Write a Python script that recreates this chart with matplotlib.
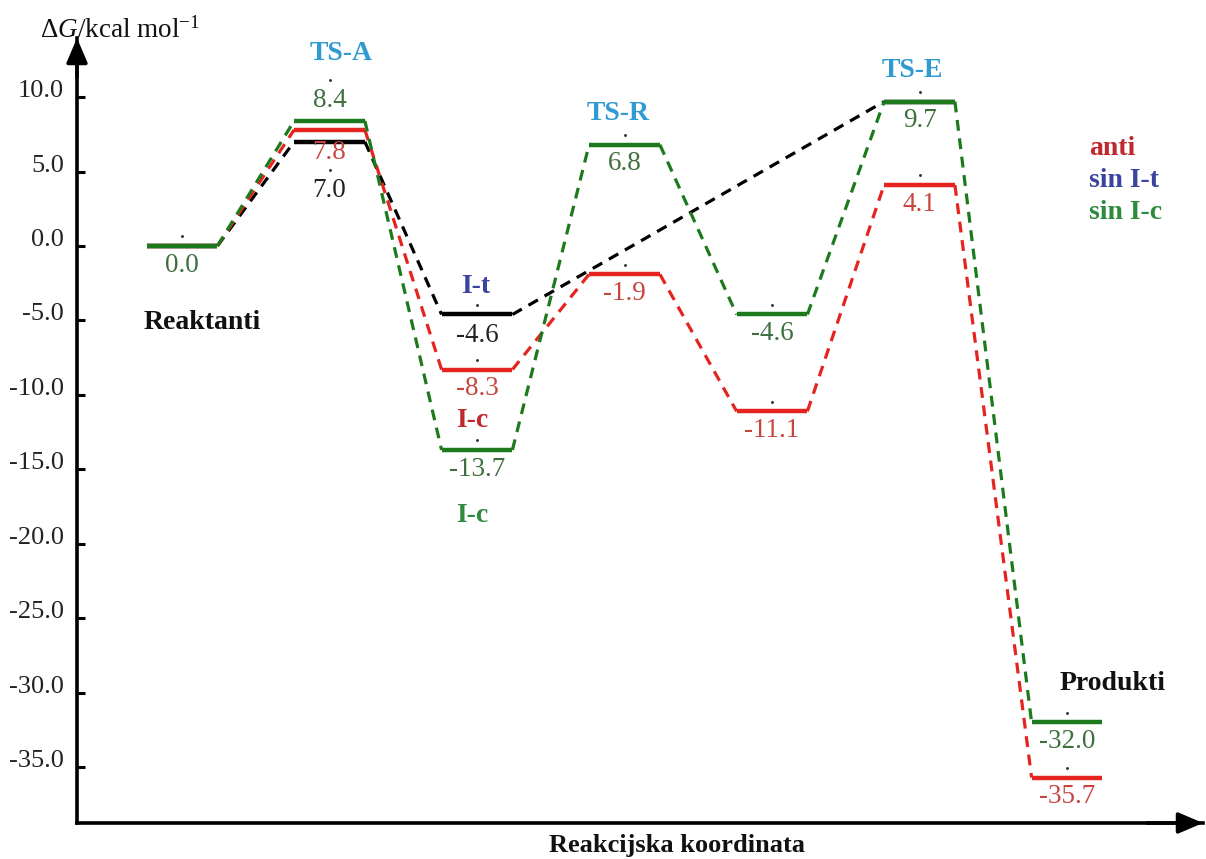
import matplotlib
matplotlib.use("Agg")
import matplotlib.pyplot as plt

plt.rcParams['font.family'] = ['Liberation Serif', 'DejaVu Serif']
plt.rcParams['mathtext.fontset'] = 'custom'
plt.rcParams['mathtext.rm'] = 'Liberation Serif'
plt.rcParams['mathtext.it'] = 'Liberation Serif:italic'

# ---------------- data ----------------
stage_pos = [0, 1, 2, 3, 4, 5, 6]
anti_energy = [0.0, 7.8, -8.3, -1.9, -11.1, 4.1, -35.7]
sin_ic_energy = [0.0, 8.4, -13.7, 6.8, -4.6, 9.7, -32.0]
sin_it_pos = [0, 1, 2, 5]
sin_it_energy = [0.0, 7.0, -4.6, 9.7]

y_ticks = [-35.0, -30.0, -25.0, -20.0, -15.0, -10.0, -5.0, 0.0, 5.0, 10.0]
y_tick_labels = ['-35.0', '-30.0', '-25.0', '-20.0', '-15.0', '-10.0', '-5.0', '0.0', '5.0', '10.0']

series_names = ['anti', 'sin I-t', 'sin I-c']

# ---------------- style ----------------
C_GREEN = '#1c7a1c'
C_RED = '#e5231f'
C_BLACK = '#000000'
T_GREEN = '#3f6f3f'
T_RED = '#c8453f'
T_BLACK = '#222222'
C_TS = '#2f9bd0'
C_BLUE = '#3b43a0'
HW = 0.24          # half width of a level
LBL_OFF = 1.28     # value label offset below level
DOT_OFF = 0.65     # dot offset above level

fig = plt.figure(figsize=(12.06, 8.59), dpi=100)
L, R, T, B = 77, 1203, 38, 823
W, H = 1206, 859
ax = fig.add_axes([L / W, 1 - B / H, (R - L) / W, (B - T) / H])
ax.set_xlim((L - 182) / 147.5, (R - 182) / 147.5)
ax.set_ylim((246 - B) / 14.89, (246 - T) / 14.89)

for s in ['top', 'right']:
    ax.spines[s].set_visible(False)
for s in ['left', 'bottom']:
    ax.spines[s].set_linewidth(2.6)
ax.set_xticks([])
ax.set_yticks(y_ticks, y_tick_labels)
ax.tick_params(axis='y', direction='in', length=6, width=2.2, pad=9.5,
               labelsize=19, labelcolor='#222222')
for lab in ax.get_yticklabels():
    lab.set_verticalalignment('baseline')

# axis arrows
ax.annotate('', xy=(0, 1), xytext=(0, 0.95), xycoords='axes fraction',
            arrowprops=dict(arrowstyle='-|>,head_length=0.75,head_width=0.32',
                            mutation_scale=20, color='black', lw=2.6,
                            shrinkA=0, shrinkB=0))
ax.annotate('', xy=(1, 0), xytext=(0.95, 0), xycoords='axes fraction',
            arrowprops=dict(arrowstyle='-|>,head_length=0.75,head_width=0.32',
                            mutation_scale=20, color='black', lw=2.6,
                            shrinkA=0, shrinkB=0))


def draw_path(pos, en, color, z):
    for i in range(len(pos)):
        ax.plot([pos[i] - HW, pos[i] + HW], [en[i], en[i]], color=color,
                lw=3.2, solid_capstyle='butt', zorder=z + 1)
    for i in range(len(pos) - 1):
        ax.plot([pos[i] + HW, pos[i + 1] - HW], [en[i], en[i + 1]],
                color=color, lw=2.3, dashes=(3.4, 2.4), zorder=z)


draw_path(sin_it_pos, sin_it_energy, C_BLACK, 2)
draw_path(stage_pos, anti_energy, C_RED, 4)
draw_path(stage_pos, sin_ic_energy, C_GREEN, 6)

NUM_FS = 19.5


def val_label(x, e, color, dy=-LBL_OFF, dot_dy=DOT_OFF):
    ax.text(x, e + dy, f'{e:.1f}', color=color, fontsize=NUM_FS,
            ha='center', va='center', zorder=10)
    if dot_dy is not None:
        ax.plot([x], [e + dot_dy], marker='.', ms=2.2, color='#333333',
                zorder=10)


# green labels
for i, (x, e) in enumerate(zip(stage_pos, sin_ic_energy)):
    if i == 1:
        val_label(x, e, T_GREEN, dy=1.4, dot_dy=2.75)
    else:
        val_label(x, e, T_GREEN)
# red labels
for i, (x, e) in enumerate(zip(stage_pos, anti_energy)):
    if i == 0:
        continue
    if i == 1:
        val_label(x, e, T_RED, dy=-1.55, dot_dy=None)
    else:
        val_label(x, e, T_RED)
# black labels
val_label(sin_it_pos[1], sin_it_energy[1], T_BLACK, dy=-3.24, dot_dy=-1.9)
val_label(sin_it_pos[2], sin_it_energy[2], T_BLACK, dy=-1.38)

BFS = 20
ax.text(1.08, 12.9, 'TS-A', color=C_TS, fontsize=BFS, fontweight='bold', ha='center', va='center')
ax.text(2.96, 8.87, 'TS-R', color=C_TS, fontsize=BFS, fontweight='bold', ha='center', va='center')
ax.text(4.95, 11.82, 'TS-E', color=C_TS, fontsize=BFS, fontweight='bold', ha='center', va='center')
ax.text(1.99, -2.69, 'I-t', color=C_BLUE, fontsize=BFS, fontweight='bold', ha='center', va='center')
ax.text(1.97, -11.75, 'I-c', color='#c0282d', fontsize=BFS, fontweight='bold', ha='center', va='center')
ax.text(1.97, -18.13, 'I-c', color='#2e8b3e', fontsize=BFS, fontweight='bold', ha='center', va='center')
ax.text(0.14, -5.17, 'Reaktanti', color='#111111', fontsize=BFS, fontweight='bold', ha='center', va='center')
ax.text(6.31, -29.35, 'Produkti', color='#111111', fontsize=BFS, fontweight='bold', ha='center', va='center')

# legend text
leg_colors = ['#c0282d', C_BLUE, '#2e8b3e']
leg_y = [6.58, 4.43, 2.28]
for name, c, yy in zip(series_names, leg_colors, leg_y):
    ax.text(6.15, yy, name, color=c, fontsize=BFS, fontweight='bold', ha='left', va='center')

fig.text(40 / W, 1 - 30 / H, r'$\Delta\mathit{G}$/kcal mol$^{-1}$', fontsize=19.5,
         ha='left', va='center', color='#111111')
fig.text(677 / W, 1 - 852 / H, 'Reakcijska koordinata', fontsize=19,
         fontweight='bold', ha='center', va='baseline', color='#111111')

fig.savefig('out.png', dpi=100)
